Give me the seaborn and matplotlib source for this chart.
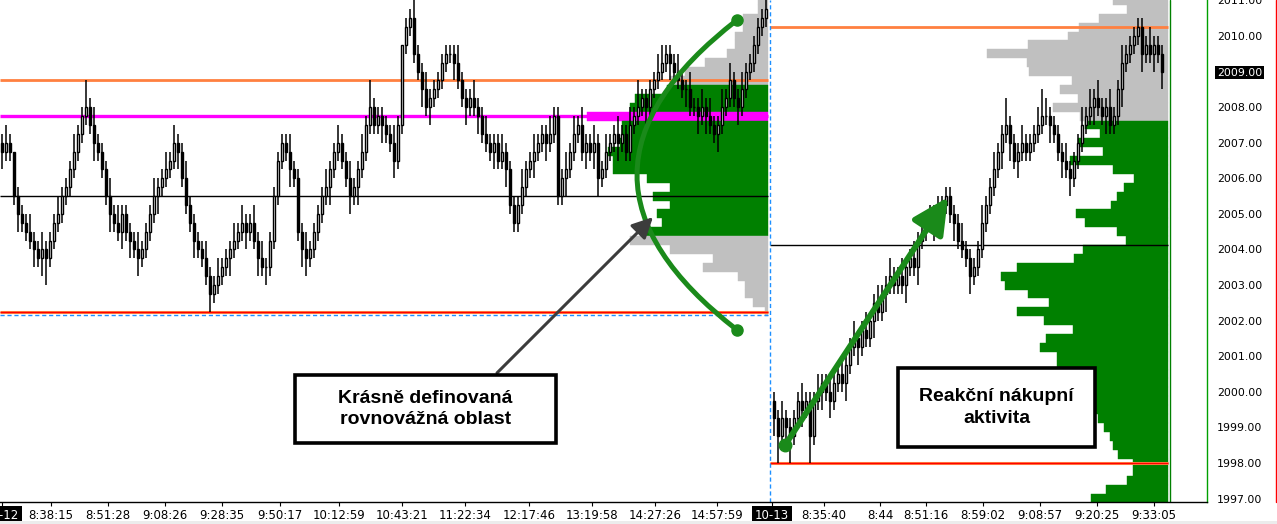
import numpy as np
import matplotlib
matplotlib.use("Agg")
import matplotlib.pyplot as plt
import seaborn as sns
from matplotlib.patches import Rectangle, PathPatch, Shadow
from matplotlib.path import Path
from matplotlib.lines import Line2D

sns.set_theme(style="white")
plt.rcParams["font.family"] = ["DejaVu Sans"]

TICK = 0.25

# --- session 10-12 : closes per bar (open = previous close) ---
open_d1 = 2007.0
close_d1 = [
    2006.75, 2007.0, 2006.75, 2005.5, 2005.0, 2004.75, 2004.5, 2004.25, 2004.0, 2003.75, 2004.0, 2003.75, 2004.25, 2004.75, 2005.0, 2005.5,
    2005.75, 2006.25, 2006.75, 2007.25, 2007.75, 2008.0, 2007.5, 2007.0, 2006.75, 2006.25, 2005.5, 2005.0, 2004.75, 2004.5, 2005.0, 2004.5,
    2004.25, 2004.0, 2003.75, 2004.0, 2004.5, 2005.0, 2005.5, 2005.75, 2006.0, 2006.25, 2006.5, 2007.0, 2006.75, 2006.0, 2005.25, 2004.75,
    2004.25, 2004.0, 2003.75, 2003.25, 2002.75, 2003.0, 2003.25, 2003.5, 2003.75, 2004.0, 2004.25, 2004.5, 2004.75, 2004.5, 2004.75, 2004.25,
    2003.75, 2003.5, 2003.5, 2004.25, 2005.5, 2006.5, 2007.0, 2006.75, 2006.25, 2006.0, 2004.5, 2004.0, 2003.75, 2004.0, 2004.5, 2005.0,
    2005.5, 2005.75, 2006.25, 2006.75, 2007.0, 2006.5, 2006.0, 2005.5, 2005.75, 2006.25, 2006.75, 2007.5, 2008.0, 2007.5, 2007.75, 2007.5,
    2007.25, 2007.0, 2006.5, 2007.5, 2009.75, 2010.25, 2010.5, 2009.5, 2009.0, 2008.5, 2008.0, 2008.25, 2008.5, 2008.75, 2009.25, 2009.5,
    2009.5, 2009.25, 2008.75, 2008.25, 2008.0, 2008.25, 2008.0, 2007.75, 2007.25, 2007.0, 2006.75, 2007.0, 2006.5, 2006.75, 2006.25, 2005.25,
    2004.75, 2005.25, 2005.75, 2006.25, 2006.5, 2006.75, 2007.0, 2007.25, 2007.0, 2007.25, 2007.75, 2005.5, 2006.0, 2006.25, 2006.75, 2007.25,
    2007.5, 2006.75, 2007.0, 2006.75, 2007.0, 2006.0, 2006.25, 2006.75, 2007.0, 2007.25, 2007.0, 2007.25, 2006.75, 2007.5, 2007.75, 2008.0,
    2008.25, 2008.0, 2008.5, 2008.75, 2009.0, 2009.25, 2009.5, 2009.25, 2009.0, 2008.75, 2008.5, 2008.5, 2008.0, 2008.0, 2007.75, 2008.0,
    2007.75, 2007.5, 2007.25, 2007.5, 2008.0, 2008.25, 2008.75, 2008.25, 2008.0, 2008.5, 2009.0, 2009.25, 2009.75, 2010.25, 2010.5, 2010.75,
]
# wick length beyond the body, in ticks
wick_up_d1 = [
    1, 2, 1, 0, 1, 1, 1, 2, 1, 1, 2, 1, 1, 1, 2, 1,
    1, 1, 2, 1, 1, 3, 1, 2, 1, 1, 1, 2, 1, 2, 1, 1,
    1, 1, 2, 1, 1, 1, 2, 1, 1, 2, 1, 2, 1, 1, 2, 1,
    1, 1, 1, 2, 1, 1, 2, 1, 1, 1, 2, 1, 2, 1, 1, 2,
    1, 2, 1, 1, 1, 1, 1, 1, 2, 1, 1, 1, 2, 1, 1, 1,
    1, 2, 1, 1, 2, 1, 1, 2, 1, 1, 2, 1, 3, 1, 1, 1,
    1, 1, 2, 1, 0, 1, 1, 2, 1, 1, 2, 1, 1, 1, 1, 1,
    1, 1, 2, 1, 1, 1, 2, 1, 1, 2, 1, 1, 1, 2, 1, 1,
    1, 1, 2, 1, 1, 2, 1, 1, 1, 2, 1, 1, 1, 2, 1, 2,
    1, 2, 1, 1, 2, 1, 1, 2, 1, 1, 2, 1, 1, 2, 1, 3,
    1, 1, 1, 1, 2, 2, 1, 1, 1, 2, 1, 1, 2, 1, 1, 2,
    1, 2, 1, 1, 2, 1, 2, 1, 1, 2, 1, 1, 1, 1, 1, 1,
]
wick_dn_d1 = [
    2, 1, 1, 1, 2, 1, 1, 1, 2, 1, 2, 3, 1, 1, 1, 1,
    1, 1, 1, 1, 1, 1, 1, 2, 1, 1, 1, 2, 1, 1, 2, 1,
    2, 1, 2, 1, 1, 1, 1, 2, 1, 1, 1, 1, 2, 1, 1, 1,
    2, 1, 1, 1, 2, 1, 1, 1, 1, 2, 1, 1, 1, 2, 1, 1,
    2, 1, 2, 1, 1, 1, 1, 1, 2, 1, 1, 2, 2, 1, 1, 1,
    1, 1, 2, 1, 1, 1, 1, 2, 1, 2, 1, 1, 1, 1, 1, 2,
    1, 1, 2, 1, 1, 1, 1, 1, 1, 2, 1, 2, 1, 1, 1, 1,
    1, 2, 1, 1, 2, 1, 1, 2, 1, 1, 1, 2, 1, 1, 2, 1,
    1, 1, 1, 1, 1, 2, 1, 1, 2, 1, 1, 1, 1, 2, 1, 1,
    1, 1, 2, 1, 2, 2, 1, 1, 1, 1, 2, 1, 1, 1, 1, 1,
    1, 2, 1, 1, 1, 1, 1, 2, 1, 1, 1, 2, 1, 1, 2, 1,
    2, 1, 1, 2, 1, 1, 1, 1, 2, 1, 1, 1, 1, 1, 1, 1,
]

# --- session 10-13 ---
open_d2 = 1999.75
close_d2 = [
    1999.25, 1998.75, 1999.25, 1999.0, 1998.75, 1999.25, 1999.75, 1999.5, 1999.75, 1998.75, 1999.75, 2000.0, 2000.25, 2000.0, 1999.75, 2000.25,
    2000.5, 2000.25, 2000.75, 2001.25, 2001.5, 2001.25, 2001.75, 2001.5, 2002.0, 2002.5, 2002.25, 2002.75, 2003.0, 2003.25, 2003.0, 2003.25,
    2003.0, 2003.5, 2003.75, 2003.5, 2004.25, 2004.5, 2004.75, 2005.0, 2004.75, 2005.0, 2005.25, 2005.5, 2005.0, 2004.75, 2004.25, 2004.0,
    2003.75, 2003.25, 2003.5, 2004.0, 2004.75, 2005.25, 2005.75, 2006.25, 2006.75, 2007.25, 2007.5, 2007.0, 2006.5, 2006.75, 2007.0, 2006.75,
    2007.0, 2007.25, 2007.5, 2007.75, 2007.75, 2007.5, 2007.25, 2006.75, 2006.5, 2006.25, 2006.0, 2006.5, 2007.0, 2007.5, 2007.75, 2008.0,
    2008.25, 2008.0, 2007.75, 2008.0, 2007.5, 2007.75, 2008.5, 2009.25, 2009.5, 2009.75, 2010.0, 2010.25, 2009.5, 2009.75, 2009.5, 2009.75,
    2009.5, 2009.0,
]
wick_up_d2 = [
    1, 1, 2, 1, 1, 1, 1, 2, 1, 1, 1, 2, 1, 1, 2, 1,
    1, 2, 1, 1, 2, 1, 1, 2, 1, 1, 2, 1, 1, 2, 1, 1,
    2, 1, 1, 2, 1, 2, 1, 1, 1, 2, 1, 1, 1, 1, 1, 2,
    1, 1, 1, 1, 2, 1, 1, 2, 1, 1, 3, 1, 1, 1, 2, 1,
    1, 1, 2, 3, 2, 1, 1, 1, 1, 2, 1, 1, 1, 2, 1, 2,
    1, 2, 1, 1, 2, 1, 1, 2, 1, 1, 1, 1, 1, 1, 2, 1,
    1, 1,
]
wick_dn_d2 = [
    2, 3, 1, 2, 3, 1, 1, 2, 1, 3, 1, 1, 2, 1, 2, 1,
    1, 1, 2, 1, 1, 2, 1, 1, 1, 2, 1, 1, 2, 1, 1, 1,
    1, 2, 1, 1, 2, 1, 1, 1, 2, 1, 1, 1, 1, 2, 1, 1,
    1, 2, 1, 1, 1, 1, 1, 1, 1, 2, 1, 2, 1, 2, 1, 1,
    1, 1, 1, 1, 1, 2, 1, 1, 2, 1, 2, 1, 1, 1, 1, 1,
    2, 1, 1, 2, 1, 1, 1, 2, 1, 1, 1, 1, 2, 1, 1, 2,
    1, 2,
]

# --- volume profiles (top price level first, one row per tick) ---
prof_top = 2011.0
prof_d1 = [10, 10, 25, 25, 33, 33, 41, 63, 83, 98, 101, 133, 138, 181,
           146, 146, 148, 160, 155, 155, 121, 98, 115, 98, 111, 106, 125,
           138, 98, 55, 65, 30, 23, 23, 15, 3]
va_d1 = (2004.5, 2008.5)
poc_d1 = 2007.75
prof_d2 = [55, 41, 69, 89, 100, 140, 181, 141, 139, 96, 108, 90, 115, 88,
           83, 68, 90, 65, 98, 55, 34, 44, 51, 57, 92, 83, 51, 42, 85, 94,
           151, 167, 163, 140, 119, 151, 124, 95, 122, 128, 111, 111,
           103, 98, 90, 85, 78, 70, 64, 58, 55, 50, 35, 35, 41, 62, 77]
va_d2 = (1997.0, 2007.5)

# reference levels per session
hi_line_d1, mid_d1, low_d1, blue_d1 = 2008.75, 2005.5, 2002.25, 2002.15
hi_line_d2, mid_d2, low_d2 = 2010.25, 2004.125, 1998.0

x_ticks = [-0.1, 12.25, 26.5, 40.75, 55, 69.5, 84.25, 100, 115.75, 131.75, 147.5,
           163.25, 178.75, 192.5, 205.5, 219.5, 231, 245.25, 259.5, 273.75, 288]
x_labels = ["10-12", "8:38:15", "8:51:28", "9:08:26", "9:28:35", "9:50:17", "10:12:59",
            "10:43:21", "11:22:34", "12:17:46", "13:19:58", "14:27:26", "14:57:59",
            "10-13", "8:35:40", "8:44", "8:51:16", "8:59:02", "9:08:57", "9:20:25", "9:33:05"]
y_ticks = list(range(1997, 2012))
last_price = 2009.0

GREEN = "#008000"
GRAY = "#c0c0c0"
MAGENTA = "#ff00ff"
ORANGE = "#ff8040"
BLUE = "#1e90ff"
ANN_GREEN = "#1a8a1a"
VOL_SCALE = 0.25  # bar slots per volume unit


def ohlc(first_open, closes, up, dn):
    c = np.array(closes, dtype=float)
    o = np.concatenate([[first_open], c[:-1]])
    top = np.maximum(o, c)
    bot = np.minimum(o, c)
    return o, c, top + np.array(up) * TICK, bot - np.array(dn) * TICK


def draw_candles(ax, x, o, c, hi, lo):
    ax.vlines(x, lo, hi, color="black", lw=1.1, zorder=3)
    body = np.abs(c - o)
    bot = np.minimum(o, c)
    rising = c >= o
    ax.bar(x[rising], body[rising], bottom=bot[rising], width=0.7, color="white",
           edgecolor="black", linewidth=1.0, zorder=4)
    ax.bar(x[~rising], body[~rising], bottom=bot[~rising], width=0.7, color="black",
           edgecolor="black", linewidth=1.0, zorder=4)


def draw_profile(ax, edge, vols, va, poc=None):
    w = np.array(vols) * VOL_SCALE
    levels = prof_top - TICK * np.arange(len(w))
    colors = []
    for lv in levels:
        if poc is not None and abs(lv - poc) < 1e-9:
            colors.append(MAGENTA)
        elif va[0] <= lv <= va[1]:
            colors.append(GREEN)
        else:
            colors.append(GRAY)
    ax.barh(levels, w, left=edge - w, height=TICK, color=colors, edgecolor=colors,
            linewidth=0.3, zorder=1)


fig = plt.figure(figsize=(12.77, 5.24), dpi=100)
ax = fig.add_axes([0, 22 / 524, 1207 / 1277, 502 / 524])

n1, n2 = len(close_d1), len(close_d2)
x1 = np.arange(n1)
x2 = n1 + 1 + np.arange(n2)
edge1, sep, edge2 = n1 - 0.5, n1, n1 + 1 + n2 + 0.5

draw_profile(ax, edge1, prof_d1, va_d1, poc_d1)
draw_profile(ax, edge2, prof_d2, va_d2)

# session lines
ax.hlines(hi_line_d1, -0.5, edge1, color=ORANGE, lw=2.0, zorder=2)
ax.hlines(poc_d1, -0.5, edge1, color=MAGENTA, lw=2.4, zorder=2)
ax.hlines(mid_d1, -0.5, edge1, color="black", lw=1.0, zorder=2)
ax.hlines(low_d1, -0.5, edge1, color=ORANGE, lw=2.2, zorder=2)
ax.hlines(low_d1, -0.5, edge1, color="red", lw=0.9, zorder=2)
ax.hlines(blue_d1, -0.5, edge1, color=BLUE, lw=1.0, ls=(0, (3, 2)), zorder=2)
ax.hlines(hi_line_d2, sep, edge2, color=ORANGE, lw=2.0, zorder=2)
ax.hlines(mid_d2, sep, edge2, color="black", lw=1.0, zorder=2)
ax.hlines(low_d2, sep, edge2, color=ORANGE, lw=2.2, zorder=2)
ax.hlines(low_d2, sep, edge2, color="red", lw=0.9, zorder=2)
ax.axvline(sep, color=BLUE, lw=1.0, ls=(0, (3, 2)), zorder=2)
ax.axvline(edge2 + 0.4, color=GREEN, lw=1.0, zorder=2)

draw_candles(ax, x1, *ohlc(open_d1, close_d1, wick_up_d1, wick_dn_d1))
draw_candles(ax, x2, *ohlc(open_d2, close_d2, wick_up_d2, wick_dn_d2))

# green arc around the balance area
arc = Path([(183.75, 2010.45), (133.75, 2006.09), (183.75, 2001.74)],
           [Path.MOVETO, Path.CURVE3, Path.CURVE3])
ax.add_patch(PathPatch(arc, facecolor="none", edgecolor=ANN_GREEN, lw=3.6,
                       capstyle="round", zorder=6))
ax.plot([183.75, 183.75], [2010.45, 2001.74], "o", ms=8, color=ANN_GREEN, zorder=6)

# green arrow for the rally
ax.annotate("", xy=(236.5, 2005.47), xytext=(195.75, 1998.5), zorder=6,
            arrowprops=dict(arrowstyle="-|>,head_length=1.1,head_width=0.55",
                            mutation_scale=20, color=ANN_GREEN, lw=4.2,
                            shrinkA=0, shrinkB=0))
ax.plot(195.75, 1998.5, "o", ms=9, color=ANN_GREEN, zorder=6)

# gray pointer arrow
ax.annotate("", xy=(162.75, 2004.91), xytext=(123.75, 2000.53), zorder=6,
            arrowprops=dict(arrowstyle="-|>,head_length=0.9,head_width=0.45",
                            mutation_scale=14, color="#3c3c3c", lw=2.2,
                            shrinkA=0, shrinkB=0))

# callout boxes
boxes = [
    ((73.25, 1998.56), 65.25, 1.91, "Krásně definovaná\nrovnovážná oblast"),
    ((224.0, 1998.45), 49.25, 2.22, "Reakční nákupní\naktivita"),
]
for (bx, by), bw, bh, txt in boxes:
    rect = Rectangle((bx, by), bw, bh, facecolor="white", edgecolor="black", lw=2.6, zorder=7)
    ax.add_patch(Shadow(rect, 4, -4, shade=0.5, alpha=0.55, zorder=6.5))
    ax.add_patch(rect)
    ax.text(bx + bw / 2, by + bh / 2, txt, ha="center", va="center", fontsize=14,
            fontweight="bold", color="black", family=["Liberation Sans", "DejaVu Sans"],
            linespacing=1.35, zorder=8)

ax.set_xlim(-0.5, 301.25)
ax.set_ylim(1996.903, 2011.012)

ax.set_xticks(x_ticks, x_labels)
ax.set_yticks(y_ticks, [f"{v:.2f}" for v in y_ticks])
ax.yaxis.tick_right()
ax.tick_params(axis="x", bottom=True, length=3, width=0.8, pad=2, labelsize=8.5,
               direction="out", colors="black")
ax.tick_params(axis="y", right=True, left=False, length=0, pad=7, labelsize=7.9,
               colors="black")
for lbl in ax.get_xticklabels():
    if lbl.get_text() in ("10-12", "10-13"):
        lbl.set_color("white")
        lbl.set_bbox(dict(facecolor="black", edgecolor="none", pad=2.2))
for lbl in ax.get_yticklabels():
    if lbl.get_text() == f"{last_price:.2f}":
        lbl.set_color("white")
        lbl.set_bbox(dict(facecolor="black", edgecolor="none", pad=1.2))

for side in ("top", "left"):
    ax.spines[side].set_visible(False)
ax.spines["bottom"].set_color("black")
ax.spines["bottom"].set_linewidth(1.0)
ax.spines["right"].set_color("#00a000")
ax.spines["right"].set_linewidth(1.0)

fig.add_artist(Line2D([1276 / 1277] * 2, [22 / 524, 1], transform=fig.transFigure,
                      color="red", lw=1.0))
fig.add_artist(Rectangle((0, 0), 1, 3 / 524, transform=fig.transFigure,
                         facecolor="#ececec", edgecolor="none"))

fig.savefig("out.png", dpi=100)
